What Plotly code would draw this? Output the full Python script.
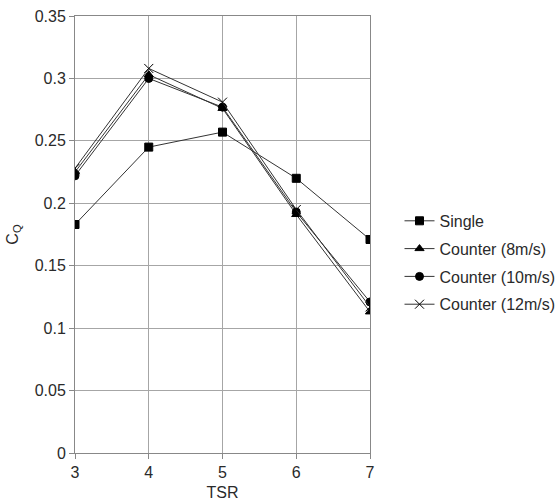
import plotly.graph_objects as go

tsr = [3, 4, 5, 6, 7]
single = [0.183, 0.245, 0.257, 0.220, 0.171]
counter8 = [0.225, 0.303, 0.276, 0.191, 0.113]
counter10 = [0.222, 0.300, 0.277, 0.193, 0.121]
counter12 = [0.228, 0.308, 0.281, 0.195, 0.117]

series = [
    ("Single", single, "square", 8),
    ("Counter (8m/s)", counter8, "triangle-up", 8),
    ("Counter (10m/s)", counter10, "circle", 8),
    ("Counter (12m/s)", counter12, "x-thin", 9),
]

fig = go.Figure()
for i, (name, vals, sym, sz) in enumerate(series):
    fig.add_trace(go.Scatter(
        x=tsr, y=vals, name=name, mode="lines+markers", legendgroup=f"g{i}",
        line=dict(color="#333333", width=1),
        marker=dict(symbol=sym, size=sz, color="black",
                    line=dict(color="black", width=1)),
    ))

fig.update_layout(
    width=560, height=503,
    margin=dict(l=75, r=190, t=16, b=50, autoexpand=False),
    paper_bgcolor="white", plot_bgcolor="white",
    font=dict(family="Liberation Sans, Arial", size=16, color="#2a2a2a"),
    showlegend=True,
    legend=dict(x=1.1, y=0.435, xanchor="left", yanchor="middle",
                font=dict(size=16), tracegroupgap=4, itemsizing="trace",
                itemwidth=30),
)
fig.update_xaxes(
    range=[3, 7], tickvals=tsr, showgrid=True, gridcolor="#a6a6a6", gridwidth=1,
    showline=True, linecolor="#888888", mirror=True, ticks="outside", ticklen=5,
    tickcolor="#888888", zeroline=False, automargin=False,
    title=dict(text="TSR", font=dict(size=16), standoff=6),
    tickfont=dict(size=16),
)
fig.update_yaxes(
    range=[0, 0.35], dtick=0.05, tickformat="~g", showgrid=True, gridcolor="#a6a6a6",
    gridwidth=1, showline=True, linecolor="#888888", mirror=True, ticks="outside",
    ticklen=5, tickcolor="#888888", zeroline=False, automargin=False,
    title=dict(text="C<sub>Q</sub>", font=dict(size=16), standoff=12),
    tickfont=dict(size=16),
)

fig.write_html("out.html")
